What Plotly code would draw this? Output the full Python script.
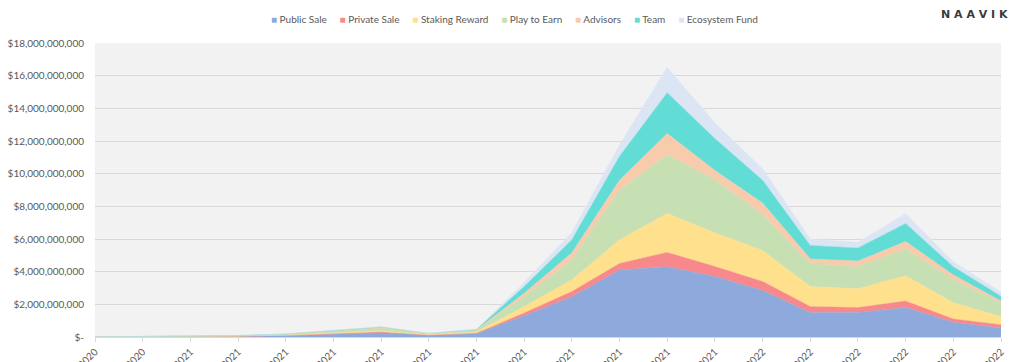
import plotly.graph_objects as go

# Month labels (Nov 2020 .. Jun 2022)
categories = ["11/1/2020", "12/1/2020", "1/1/2021", "2/1/2021", "3/1/2021", "4/1/2021",
              "5/1/2021", "6/1/2021", "7/1/2021", "8/1/2021", "9/1/2021", "10/1/2021",
              "11/1/2021", "12/1/2021", "1/1/2022", "2/1/2022", "3/1/2022", "4/1/2022",
              "5/1/2022", "6/1/2022"]

# Values in billions of USD (stacked components)
public_sale    = [0.005, 0.01, 0.02, 0.04, 0.08, 0.18, 0.26, 0.10, 0.20, 1.30, 2.47, 4.10, 4.30, 3.70, 2.85, 1.50, 1.50, 1.80, 0.90, 0.55]
private_sale   = [0.001, 0.002, 0.004, 0.008, 0.015, 0.03, 0.04, 0.02, 0.03, 0.17, 0.31, 0.40, 0.88, 0.61, 0.55, 0.36, 0.30, 0.40, 0.20, 0.20]
staking_reward = [0.0, 0.002, 0.005, 0.01, 0.02, 0.04, 0.08, 0.03, 0.07, 0.39, 0.72, 1.45, 2.38, 2.07, 1.90, 1.23, 1.15, 1.55, 1.00, 0.50]
play_to_earn   = [0.001, 0.005, 0.01, 0.02, 0.04, 0.09, 0.17, 0.05, 0.10, 0.61, 1.22, 3.05, 3.60, 3.25, 2.20, 1.41, 1.35, 1.65, 1.40, 0.82]
advisors       = [0.0, 0.001, 0.003, 0.005, 0.01, 0.02, 0.03, 0.01, 0.03, 0.21, 0.43, 0.60, 1.30, 0.57, 0.70, 0.28, 0.35, 0.45, 0.30, 0.13]
team           = [0.0, 0.002, 0.004, 0.008, 0.015, 0.02, 0.03, 0.01, 0.03, 0.41, 0.80, 1.46, 2.50, 1.95, 1.40, 0.82, 0.80, 1.10, 0.50, 0.30]
ecosystem_fund = [0.0, 0.002, 0.004, 0.008, 0.015, 0.02, 0.02, 0.01, 0.02, 0.24, 0.45, 0.70, 1.55, 0.95, 0.70, 0.40, 0.35, 0.60, 0.30, 0.25]

series_names = ["Public Sale", "Private Sale", "Staking Reward", "Play to Earn",
                "Advisors", "Team", "Ecosystem Fund"]
series_values = [public_sale, private_sale, staking_reward, play_to_earn,
                 advisors, team, ecosystem_fund]
series_colors = ["#8EA9DB", "#F7888B", "#FFE08C", "#C6E0B4", "#F8CBAD", "#62DDD6", "#DCE5F4"]

y_tick_values = [0, 2e9, 4e9, 6e9, 8e9, 10e9, 12e9, 14e9, 16e9, 18e9]
y_tick_labels = ["$-", "$2,000,000,000", "$4,000,000,000", "$6,000,000,000",
                 "$8,000,000,000", "$10,000,000,000", "$12,000,000,000",
                 "$14,000,000,000", "$16,000,000,000", "$18,000,000,000"]

FONT = "Lato, 'Open Sans', sans-serif"
GRAY = "#595959"

fig = go.Figure()
for name, vals, col in zip(series_names, series_values, series_colors):
    fig.add_trace(go.Scatter(
        x=categories, y=[v * 1e9 for v in vals], name=name,
        mode="lines", stackgroup="one",
        line=dict(width=0.5, color=col), fillcolor=col,
        showlegend=False,
    ))

# custom compact legend (as text)
legend_html = "\u00a0\u00a0\u00a0\u00a0\u00a0".join(
    f"<span style='color:{c}'>\u25a0</span> {n}" for n, c in zip(series_names, series_colors)
)

# page body has an 8px margin: figure is placed at (8, 8)
fig.update_layout(
    template="none",
    width=1016, height=354,
    margin=dict(l=87, r=23, t=35, b=25, autoexpand=False),
    paper_bgcolor="white",
    plot_bgcolor="#F2F2F2",
    font=dict(family=FONT, size=10, color=GRAY),
    showlegend=False,
    annotations=[
        dict(text=legend_html, xref="paper", yref="paper", x=0.4625, y=1.0,
             yshift=24, xanchor="center", yanchor="middle", showarrow=False,
             font=dict(family=FONT, size=10, color=GRAY)),
        dict(text="<b>N A A V I K</b>", xref="paper", yref="paper", x=1.0, y=1.0,
             xshift=9, yshift=29, xanchor="right", yanchor="middle", showarrow=False,
             font=dict(family="'DejaVu Sans', sans-serif", size=11, color="#3A3A3A")),
    ],
    shapes=[
        dict(type="line", xref="paper", yref="paper", x0=-0.103, x1=-0.103, y0=-0.1, y1=1.2,
             line=dict(color="#D0D0D0", width=1)),
    ],
)

fig.update_xaxes(
    type="category", range=[0, len(categories) - 1],
    tickangle=-45, automargin=False,
    showgrid=False, zeroline=False,
    showline=True, linecolor="#D9D9D9", linewidth=1,
    ticks="outside", ticklen=4, tickcolor="#D9D9D9",
    tickfont=dict(family=FONT, size=10, color=GRAY),
)
fig.update_yaxes(
    range=[0, 18e9], tickvals=y_tick_values, ticktext=y_tick_labels,
    automargin=False, ticklabelstandoff=10,
    showgrid=True, gridcolor="#D9D9D9", gridwidth=1,
    zeroline=False, showline=False, ticks="",
    tickfont=dict(family=FONT, size=10, color=GRAY),
)

fig.write_html("out.html")
